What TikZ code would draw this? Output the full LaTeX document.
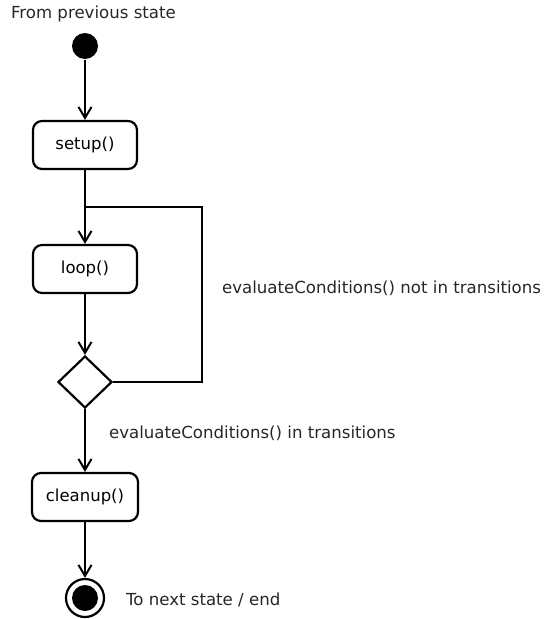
\documentclass[tikz,border=0pt]{standalone}
\usepackage{fontspec}
\setmainfont{DejaVu Sans}
\usetikzlibrary{arrows.meta,shapes.geometric}
\begin{document}
\begin{tikzpicture}[x=1pt,y=-1pt,
  line width=2.2pt,
  arr/.style={-{Straight Barb[length=11pt,width=13pt,line width=2pt]}},
  statebox/.style={draw,rounded corners=9pt,minimum width=104pt,minimum height=48pt,inner sep=0pt,font=\fontsize{16.5}{19}\selectfont},
  lbl/.style={font=\fontsize{16.6}{19}\selectfont,inner sep=0pt,anchor=west,text=black!85}]
\useasboundingbox (0,0) rectangle (544,619);
\node[lbl] (from) at (10,14) {From previous state};
\node[circle,fill=black,minimum size=26pt,inner sep=0pt] (init) at (85,46) {};
\node[statebox] (setup) at (85,145) {setup()};
\node[statebox] (loop) at (85,269) {loop()};
\node[diamond,draw,minimum width=54pt,minimum height=52pt,inner sep=0pt,aspect=1] (dec) at (85,382) {};
\node[statebox,minimum width=106pt] (clean) at (85,497) {cleanup()};
\node[circle,draw,minimum size=38pt,inner sep=0pt] (fin) at (85,598) {};
\node[circle,fill=black,minimum size=26pt,inner sep=0pt] (finin) at (85,598) {};
\coordinate (j1) at (85,207);
\coordinate (j2) at (202,207);
\coordinate (j3) at (202,382);
\node[lbl] (lnot) at (221,288) {evaluateConditions() not in transitions};
\node[lbl] (lin) at (108,433) {evaluateConditions() in transitions};
\node[lbl] (to) at (125,600) {To next state / end};
\draw[arr] (init) -- (setup);
\draw[arr] (setup) -- (loop);
\draw[arr] (loop) -- (dec);
\draw[arr] (dec) -- (clean);
\draw[arr] (clean) -- (fin);
\draw (dec.east) -- (j3) -- (j2) -- (j1);
\end{tikzpicture}
\end{document}
